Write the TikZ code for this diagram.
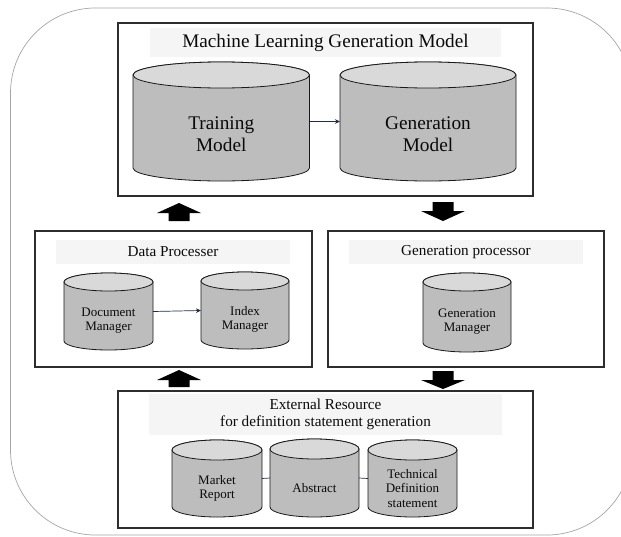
\documentclass[tikz,border=0pt]{standalone}
\usepackage{fontspec}
\setmainfont{Liberation Serif}
\usetikzlibrary{calc,arrows.meta}

\definecolor{ink}{RGB}{10,10,10}
\definecolor{linkc}{RGB}{35,45,65}
\definecolor{framec}{RGB}{45,45,45}

\tikzset{
  frame/.style={draw=black!35, line width=0.7pt},
  box/.style={draw=framec, line width=1.2pt, fill=white, inner sep=0pt},
  band/.style={fill=black!4, draw=none, inner sep=0pt, text=ink, align=center},
  cylbody/.style={fill=black!26, draw=black!90, line width=0.8pt},
  cyltop/.style={fill=black!15, draw=black!90, line width=0.8pt},
  link/.style={draw=linkc, line width=0.7pt},
  linkarrow/.style={link, -{Stealth[length=5pt,width=4.5pt]}},
  blockarrow/.style={fill=black, draw=none},
  bigfont/.style={font=\fontsize{19.3}{22}\selectfont},
  titlefont/.style={font=\fontsize{19.2}{22}\selectfont},
  subfont/.style={font=\fontsize{15.2}{17}\selectfont},
  smallfont/.style={font=\fontsize{13}{14.5}\selectfont},
}

% cylinder: name, centre x, centre y, width, height, end radius, text style, text
\newcommand\cylnode[8]{%
  \node[minimum width=#4pt, minimum height=#5pt, inner sep=0pt, outer sep=0pt] (#1) at (#2,#3) {};
  \filldraw[cylbody] ($(#1.north west)+(0,#6)$) -- ($(#1.south west)-(0,#6)$)
     arc[start angle=180, end angle=0, x radius={#4/2}, y radius=#6]
     -- ($(#1.north east)+(0,#6)$)
     arc[start angle=0, end angle=-180, x radius={#4/2}, y radius=#6] -- cycle;
  \filldraw[cyltop] ($(#1.north)+(0,#6)$) ellipse[x radius={#4/2}, y radius=#6];
  \node[align=center, text=ink, #7] (#1-label) at ($(#1.center)+(0,#6)$) {#8};
}

% solid block arrows: centre x, tip y, head base y, tail y
\newcommand\blockarrow[4]{%
  \fill[blockarrow] (#1,#2) -- (#1+22,#3) -- (#1+10.5,#3) -- (#1+10.5,#4)
    -- (#1-10.5,#4) -- (#1-10.5,#3) -- (#1-22,#3) -- cycle;
}

\begin{document}
\begin{tikzpicture}[x=1pt, y=-1pt]
  \useasboundingbox (0,0) rectangle (621,536);
  \begin{scope}
    \clip (0,0) rectangle (621,536);
    \fill[white] (0,0) rectangle (621,536);
    \draw[frame, rounded corners=85pt] (10.5,8) rectangle (632,535);
  \end{scope}

  % Machine learning generation model
  \node[box, minimum width=415pt, minimum height=173pt] (mlbox) at (325.5,109.5) {};
  \node[band, titlefont, minimum width=351pt, minimum height=29pt] (mltitle) at (325.5,42.5)
    {Machine Learning Generation Model};
  \cylnode{train}{221.25}{121.5}{176.5}{119}{13}{bigfont}{Training\\Model}
  \cylnode{genmodel}{428}{121.5}{176}{119}{13}{bigfont}{Generation\\Model}
  \draw[linkarrow] (train.east) -- (genmodel.west);

  % Data processer
  \node[box, minimum width=277pt, minimum height=136pt] (dpbox) at (173.5,299) {};
  \node[band, subfont, minimum width=234pt, minimum height=24pt] (dptitle) at (173,252)
    {Data Processer};
  \cylnode{docman}{108.5}{311.5}{89}{77}{9}{smallfont}{Document\\Manager}
  \cylnode{idxman}{245}{310.5}{88}{77}{9}{smallfont}{Index\\Manager}
  \draw[linkarrow] (docman.east) -- (idxman.west);

  % Generation processor
  \node[box, minimum width=276pt, minimum height=136pt] (gpbox) at (466,299) {};
  \node[band, subfont, minimum width=234pt, minimum height=24pt] (gptitle) at (466,252)
    {Generation processor};
  \cylnode{genman}{467}{312.5}{88}{79}{9}{smallfont}{Generation\\Manager}

  % External resource
  \node[box, minimum width=415pt, minimum height=137pt] (exbox) at (325.5,459.5) {};
  \node[band, subfont, minimum width=353pt, minimum height=41pt] (extitle) at (325.5,414.5)
    {External Resource\\for definition statement generation};
  \cylnode{market}{217}{478.5}{90}{77}{10}{smallfont}{Market\\Report}
  \cylnode{abstract}{314.5}{478}{89}{78}{10}{smallfont}{Abstract}
  \cylnode{techdef}{412.5}{478.5}{89}{77}{10}{smallfont}{Technical\\Definition\\statement}
  \draw[link] (market.east) -- (abstract.west);
  \draw[link] (abstract.east) -- (techdef.west);

  % flow between the blocks
  \blockarrow{179}{203}{213}{221}
  \blockarrow{179}{370}{380}{387}
  \blockarrow{443}{221}{211}{202}
  \blockarrow{443}{389}{380}{371}
\end{tikzpicture}
\end{document}
